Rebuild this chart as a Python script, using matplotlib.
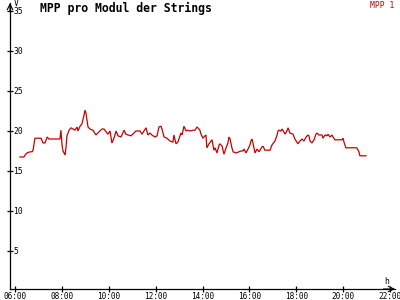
import matplotlib
matplotlib.use("Agg")
import matplotlib.pyplot as plt
from matplotlib.transforms import blended_transform_factory, offset_copy

hours = [6.19, 6.36, 6.41, 6.49, 6.62, 6.71, 6.75, 6.83, 6.92, 7.09, 7.18, 7.26, 7.35, 7.43, 7.56, 7.90,
         7.94, 7.99, 8.03, 8.12, 8.16, 8.20, 8.29, 8.37, 8.46, 8.54, 8.63, 8.67, 8.76, 8.84, 8.93, 8.97,
         9.01, 9.10, 9.18, 9.31, 9.44, 9.57, 9.70, 9.78, 9.91, 9.95, 10.04, 10.12, 10.21, 10.30, 10.38,
         10.51, 10.64, 10.72, 10.81, 10.94, 11.06, 11.15, 11.32, 11.41, 11.49, 11.58, 11.66, 11.75, 11.83,
         11.96, 12.05, 12.13, 12.22, 12.26, 12.35, 12.47, 12.60, 12.73, 12.77, 12.86, 12.94, 13.03, 13.07,
         13.12, 13.20, 13.29, 13.37, 13.46, 13.59, 13.67, 13.76, 13.84, 13.88, 13.93, 14.01, 14.10, 14.14,
         14.18, 14.27, 14.40, 14.48, 14.53, 14.61, 14.70, 14.74, 14.83, 14.91, 15.00, 15.08, 15.12, 15.17,
         15.25, 15.30, 15.42, 15.55, 15.64, 15.72, 15.77, 15.85, 15.94, 16.02, 16.06, 16.11, 16.24, 16.32,
         16.41, 16.53, 16.58, 16.66, 16.75, 16.88, 16.96, 17.09, 17.18, 17.22, 17.26, 17.35, 17.39, 17.43,
         17.52, 17.60, 17.65, 17.73, 17.86, 17.94, 18.07, 18.16, 18.24, 18.33, 18.42, 18.50, 18.54, 18.59,
         18.67, 18.76, 18.84, 18.89, 18.97, 19.10, 19.14, 19.23, 19.31, 19.36, 19.44, 19.53, 19.57, 19.65,
         19.95, 20.00, 20.04, 20.12, 20.21, 20.59, 20.68, 20.72, 20.98]
mpp1 = [16.75, 16.75, 17.0, 17.25, 17.4, 17.4, 17.6, 19.1, 19.1, 19.1, 18.5, 18.5, 19.25, 19.0, 19.0, 19.0,
        20.1, 18.25, 17.5, 17.0, 18.0, 19.4, 20.1, 20.4, 20.25, 20.1, 20.5, 20.0, 20.6, 20.9, 22.0, 22.6,
        22.25, 20.5, 20.25, 20.1, 19.5, 19.9, 20.25, 20.25, 19.75, 19.6, 20.0, 18.5, 19.1, 20.0, 19.4,
        19.25, 20.1, 19.6, 19.5, 19.4, 19.75, 20.0, 20.0, 19.6, 20.0, 20.4, 19.5, 19.75, 19.5,
        19.25, 19.4, 20.5, 20.6, 20.25, 19.25, 19.1, 18.75, 18.6, 19.5, 18.4, 18.6, 19.4, 19.75,
        19.5, 20.6, 20.0, 20.1, 20.0, 20.1, 20.1, 20.5, 20.25, 20.1, 19.6, 19.1, 19.4, 19.5,
        17.9, 18.4, 18.9, 17.6, 17.9, 17.25, 18.25, 18.4, 18.1, 17.1, 17.9, 18.5, 19.25, 19.0,
        17.9, 17.4, 17.25, 17.4, 17.5, 17.5, 17.75, 17.25, 17.75, 18.25, 18.75, 19.0, 17.25, 17.75,
        17.4, 18.0, 18.1, 17.6, 17.6, 17.6, 18.25, 18.75, 19.5, 20.0, 20.1, 20.0, 20.25, 20.1,
        19.6, 20.0, 20.4, 19.75, 19.6, 19.0, 18.4, 18.75, 19.0, 18.75, 19.25, 19.5, 19.4, 18.75,
        18.5, 18.9, 19.6, 19.75, 19.5, 19.5, 19.1, 19.5, 19.4, 19.6, 19.25, 19.5, 19.25, 18.9,
        18.9, 19.1, 18.6, 17.9, 17.9, 17.9, 17.4, 16.9, 16.9]
x_ticks = [6, 8, 10, 12, 14, 16, 18, 20, 22]
x_labels = ["06:00", "08:00", "10:00", "12:00", "14:00", "16:00", "18:00", "20:00", "22:00"]
y_ticks = [5, 10, 15, 20, 25, 30, 35]
title = "MPP pro Modul der Strings"
series_name = "MPP 1"

RED = "#c80000"
mono = "DejaVu Sans Mono"

fig = plt.figure(figsize=(4, 3), dpi=100, facecolor="white")
ax = fig.add_axes([10 / 400, 11 / 300, 385 / 400, 286 / 300])
ax.set_xlim(5.765, 22.22)
ax.set_ylim(0.25, 36.0)
ax.patch.set_visible(False)

ax.plot(hours, mpp1, color=RED, lw=0.9, solid_joinstyle="miter")

for s in ["top", "right"]:
    ax.spines[s].set_visible(False)
for s in ["left", "bottom"]:
    ax.spines[s].set_linewidth(0.9)
    ax.spines[s].set_color("black")

ax.set_xticks(x_ticks)
ax.set_xticklabels(x_labels, fontfamily=mono, fontsize=5.6)
ax.set_yticks(y_ticks)
ax.set_yticklabels([])
ax.tick_params(axis="both", direction="inout", length=5, width=0.9, color="black")
ax.tick_params(axis="x", pad=-0.3)
ax.tick_params(axis="y", length=5)

ytr = blended_transform_factory(offset_copy(ax.transAxes, fig=fig, x=2.4, units="points"), ax.transData)
for v in y_ticks:
    ax.text(0, v, str(v), transform=ytr, fontfamily=mono, fontsize=5.8,
            ha="left", va="center", clip_on=False)

# axis arrows
ax.annotate("", xy=(0, 1.0), xytext=(0, 0.97), xycoords="axes fraction",
            arrowprops=dict(arrowstyle="->", lw=0.8, color="black", shrinkA=0, shrinkB=0))
ax.annotate("", xy=(1.0, 0), xytext=(0.97, 0), xycoords="axes fraction",
            arrowprops=dict(arrowstyle="->", lw=0.8, color="black", shrinkA=0, shrinkB=0))

fig.text(14 / 400, 1 - 3.5 / 300, "V", fontfamily=mono, fontsize=5.8, ha="left", va="center")
fig.text(387 / 400, 1 - 281 / 300, "h", fontfamily=mono, fontsize=5.8, ha="center", va="center")
fig.text(40 / 400, 1 - 8 / 300, title, fontfamily=mono, fontsize=8.3, fontweight="bold",
         ha="left", va="center")
fig.text(394 / 400, 1 - 1 / 300, series_name, fontfamily=mono, fontsize=5.8, color=RED,
         ha="right", va="top")

fig.savefig("out.png", dpi=100, facecolor="white")
